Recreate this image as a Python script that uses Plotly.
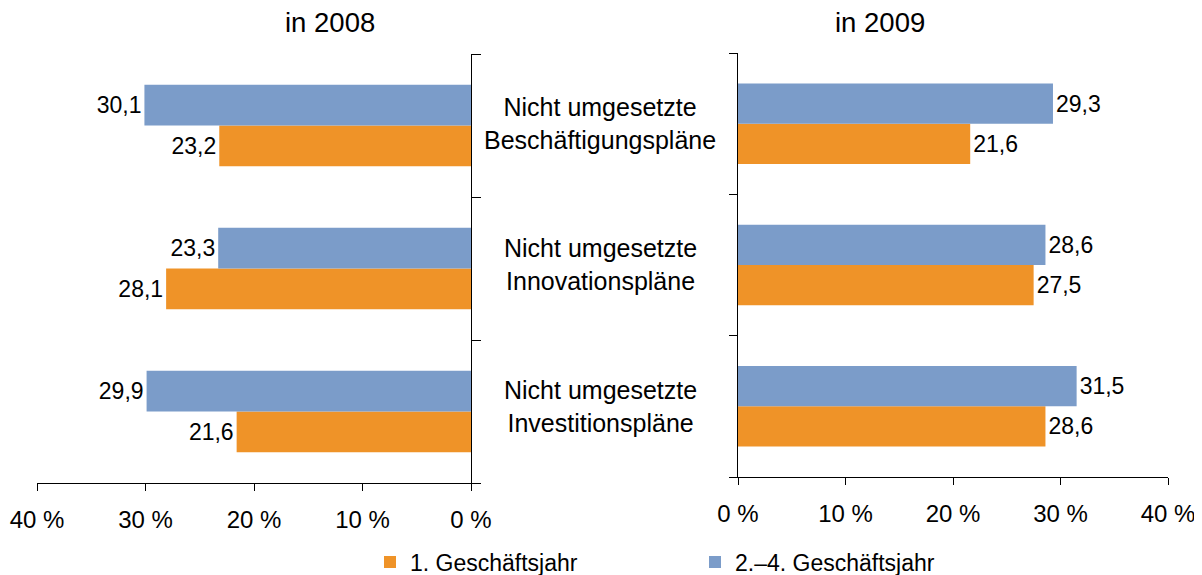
import plotly.graph_objects as go

categories = ["Nicht umgesetzte Beschäftigungspläne",
              "Nicht umgesetzte Innovationspläne",
              "Nicht umgesetzte Investitionspläne"]
series_names = ["1. Geschäftsjahr", "2.–4. Geschäftsjahr"]
v2008_first = [23.2, 28.1, 21.6]
v2008_later = [30.1, 23.3, 29.9]
v2009_first = [21.6, 27.5, 28.6]
v2009_later = [29.3, 28.6, 31.5]
panel_titles = ["in 2008", "in 2009"]
tick_values = [0, 10, 20, 30, 40]
tick_labels = [f"{v} %" for v in tick_values]

ORANGE = "#EF9328"
BLUE = "#7B9CC9"
FONT = "Liberation Sans, Arial, sans-serif"
OFF = 8  # page body margin offset
W, H = 1202 - OFF, 575 - OFF


def px(x):
    return (x - OFF) / W


def py(y):
    return 1 - (y - OFF) / H


fig = go.Figure()


def add_bar(vals, name, color, xa, ya, show):
    fig.add_trace(go.Bar(
        x=vals, y=categories, orientation="h", name=name,
        marker=dict(color=color, line=dict(width=0)),
        xaxis=xa, yaxis=ya, showlegend=show, legendgroup=name,
        text=vals, texttemplate="%{x:.1f}", textposition="outside",
        textfont=dict(size=23, color="black", family=FONT),
        cliponaxis=False,
    ))


add_bar(v2008_first, series_names[0], ORANGE, "x", "y", True)
add_bar(v2008_later, series_names[1], BLUE, "x", "y", True)
add_bar(v2009_first, series_names[0], ORANGE, "x2", "y2", False)
add_bar(v2009_later, series_names[1], BLUE, "x2", "y2", False)

xcommon = dict(showgrid=False, zeroline=False, showline=True, linecolor="black",
               linewidth=1, ticks="outside", ticklen=7, tickcolor="black",
               tickmode="array", tickvals=tick_values, ticktext=tick_labels,
               ticklabelstandoff=8, automargin=False,
               tickfont=dict(size=24, color="black", family=FONT), fixedrange=True)
ycommon = dict(showgrid=False, zeroline=False, showline=True, linecolor="black",
               linewidth=1, ticks="outside", tickcolor="black",
               tickson="boundaries", showticklabels=False, automargin=False,
               categoryorder="array", categoryarray=list(reversed(categories)),
               range=[-0.5, 2.5], fixedrange=True)

fig.update_layout(
    width=W, height=H,
    margin=dict(l=0, r=0, t=0, b=0, autoexpand=False),
    paper_bgcolor="white", plot_bgcolor="white",
    barmode="group", bargap=0.43, bargroupgap=0,
    separators=",.",
    font=dict(family=FONT, color="black"),
    xaxis=dict(xcommon, domain=[px(37), px(471)], range=[40, 0], anchor="y"),
    yaxis=dict(ycommon, domain=[py(483), py(54)], side="right", anchor="x", ticklen=9),
    xaxis2=dict(xcommon, domain=[px(738), px(1168)], range=[0, 40], anchor="y2"),
    yaxis2=dict(ycommon, domain=[py(477), py(53)], side="left", anchor="x2", ticklen=8),
    legend=dict(orientation="h", x=px(412 - 42), y=py(562), xanchor="left", yanchor="middle",
                font=dict(size=23, family=FONT, color="black"),
                entrywidth=280, entrywidthmode="pixels", traceorder="normal",
                itemclick=False, itemdoubleclick=False),
)

for i, t in enumerate(panel_titles):
    fig.add_annotation(text=t, x=px([330, 880][i]), y=py(22), xref="paper", yref="paper",
                       showarrow=False, font=dict(size=27.5, family=FONT, color="black"),
                       xanchor="center", yanchor="middle")

for c in categories:
    label = c.replace("umgesetzte ", "umgesetzte<br>")
    fig.add_annotation(text=label, x=px(600), y=c, xref="paper", yref="y2",
                       showarrow=False, align="center",
                       font=dict(size=25, family=FONT, color="black"),
                       xanchor="center", yanchor="middle")

fig.write_html("out.html")
